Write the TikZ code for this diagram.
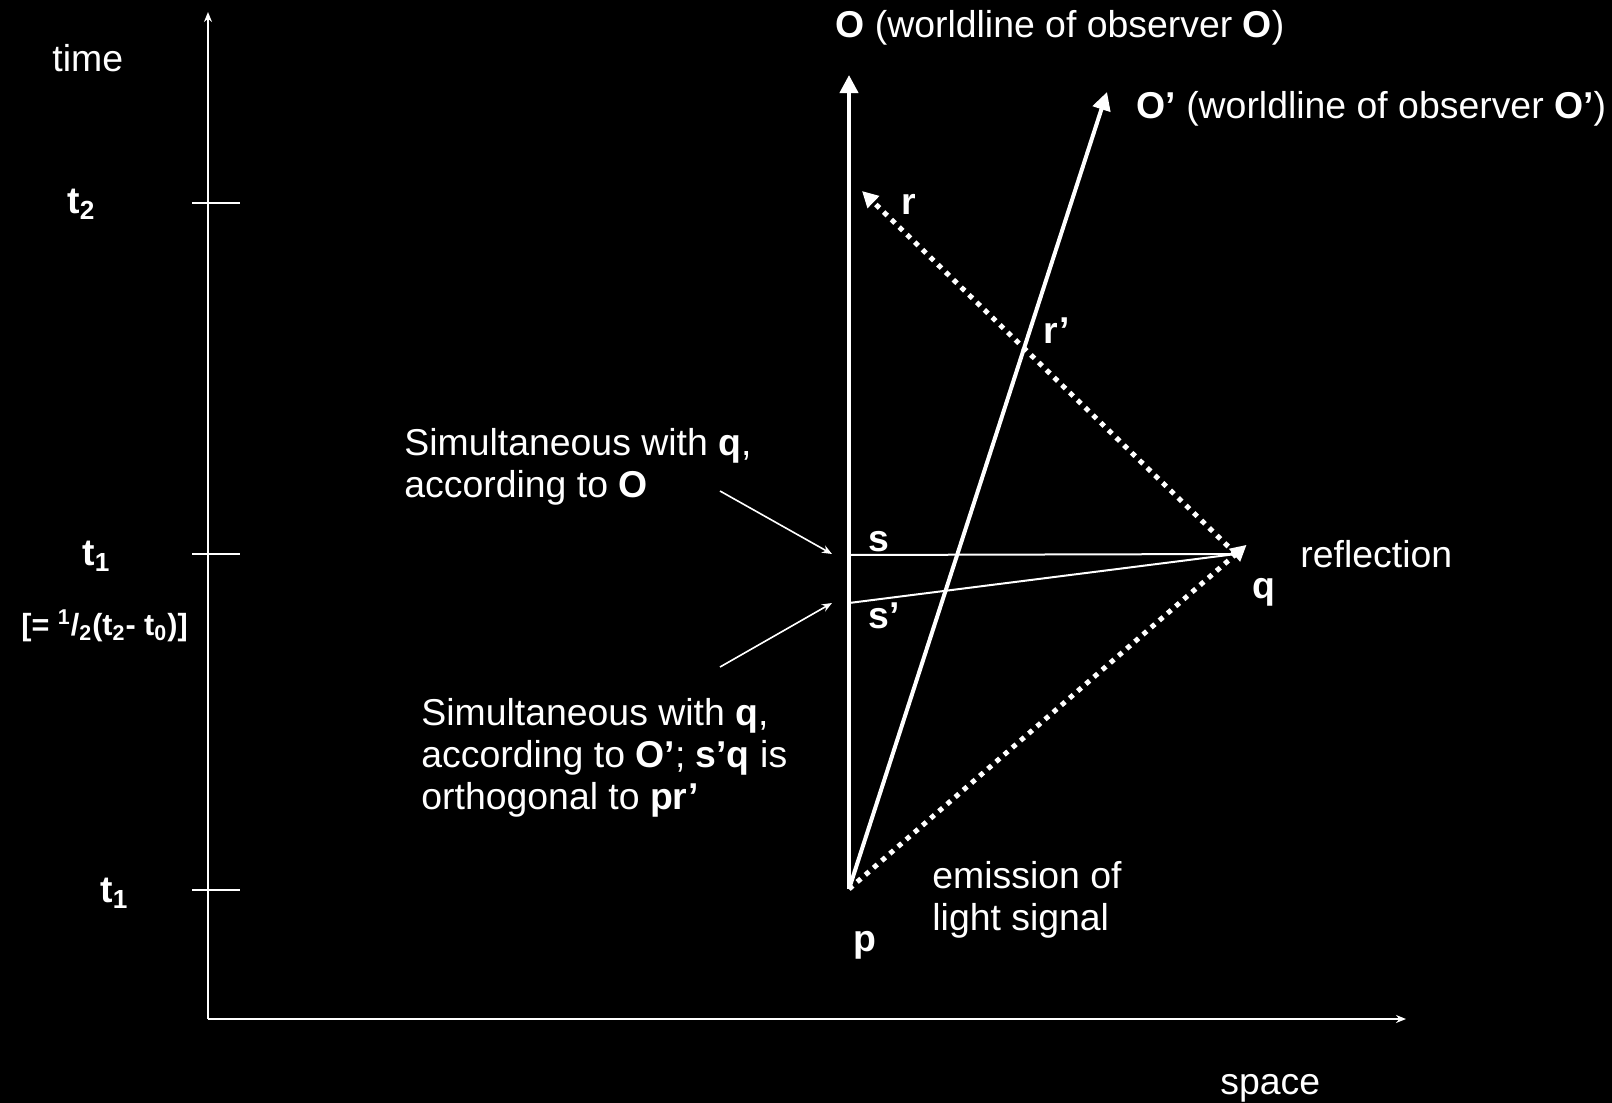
\documentclass[tikz,border=0pt]{standalone}
\usepackage{fontspec}
\setmainfont{Liberation Sans}
\usepackage{tikz}
\usetikzlibrary{arrows.meta}

\begin{document}
\begin{tikzpicture}[x=0.5pt,y=-0.5pt,color=white,
    lbl/.style={font=\fontsize{18.7}{21}\selectfont, inner sep=0pt, anchor=base west, align=left},
    axis/.style={line width=0.8pt, -{Stealth[length=5pt,width=4pt]}},
    worldline/.style={line width=2pt, -{Triangle[length=9pt,width=9pt]}},
    light/.style={line width=2.5pt, dash pattern=on 2.5pt off 2.9pt, -{Triangle[length=8pt,width=8pt]}},
    simline/.style={line width=1pt},
    pointer/.style={line width=0.8pt, -{Stealth[length=5pt,width=4pt]}}
]
\fill[black] (0,0) rectangle (1612,1103);
\useasboundingbox (0,0) rectangle (1612,1103);

% axes
\coordinate (origin) at (208,1019);
\coordinate (timetip) at (208,12);
\coordinate (spacetip) at (1406,1019);
\draw[axis] (origin) -- (timetip);
\draw[axis] (origin) -- (spacetip);
\foreach \y in {203,554,890}
    \draw[line width=0.8pt] (192,\y) -- (240,\y);

\node[lbl] (time) at (52,71) {time};
\node[lbl] (space) at (1220,1094) {space};
\node[lbl] (ttwo) at (67,213) {\textbf{t\textsubscript{2}}};
\node[lbl] (tone) at (82,565) {\textbf{t\textsubscript{1}}};
\node[lbl, font=\fontsize{15.3}{19}\selectfont] (half) at (21,635)
    {\textbf{[= \textsuperscript{1}/\textsubscript{2}(t\textsubscript{2}- t\textsubscript{0})]}};
\node[lbl] (tzero) at (100,902) {\textbf{t\textsubscript{1}}};

% events
\coordinate (p) at (849,889);
\coordinate (q) at (1236,554);
\coordinate (r) at (862,191);
\coordinate (s) at (849,555);
\coordinate (sp) at (849,603);
\coordinate (Otip) at (849,75);
\coordinate (Optip) at (1107,92);

% worldlines
\draw[worldline] (p) -- (Otip);
\draw[worldline] (p) -- (Optip);

% light signal
\draw[light, shorten >=-7pt] (p) -- (q);
\draw[light] (q) -- (r);

% simultaneity
\draw[simline] (s) -- (q);
\draw[simline] (sp) -- (q);

\node[lbl] (Olab) at (835,38) {\textbf{O} (worldline of observer \textbf{O})};
\node[lbl] (Oplab) at (1136,118) {\textbf{O’} (worldline of observer \textbf{O’})};
\node[lbl] (rlab) at (901,214) {\textbf{r}};
\node[lbl] (rplab) at (1043,343) {\textbf{r’}};
\node[lbl] (slab) at (868,551) {\textbf{s}};
\node[lbl] (splab) at (868,628) {\textbf{s’}};
\node[lbl] (qlab) at (1252,598) {\textbf{q}};
\node[lbl] (plab) at (853,951) {\textbf{p}};
\node[lbl] (refl) at (1300,567) {reflection};
\node[lbl] (emit) at (932,930) {emission of\\light signal};

% comments
\node[lbl] (simO) at (404,497) {Simultaneous with \textbf{q},\\according to \textbf{O}};
\node[lbl] (simOp) at (421,809) {Simultaneous with \textbf{q},\\according to \textbf{O’}; \textbf{s’q} is\\orthogonal to \textbf{pr’}};
\coordinate (simOfrom) at (720,491);
\coordinate (simOto) at (832,554);
\coordinate (simOpfrom) at (720,667);
\coordinate (simOpto) at (832,603);
\draw[pointer] (simOfrom) -- (simOto);
\draw[pointer] (simOpfrom) -- (simOpto);

\end{tikzpicture}
\end{document}
